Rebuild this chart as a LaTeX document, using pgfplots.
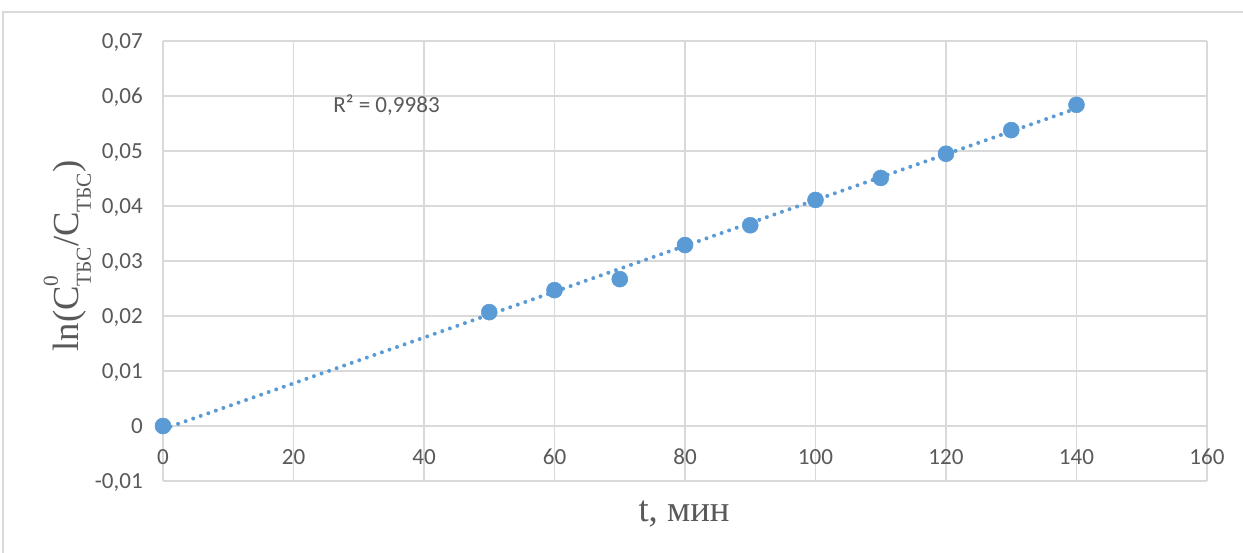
\documentclass[border=0pt]{standalone}
\usepackage{pgfplots}
\pgfplotsset{compat=1.18}
\usepackage{pgfplotstable}
\usepackage{fontspec}
\setmainfont{Carlito}
\newfontfamily\timesf{Liberation Serif}
\definecolor{ser}{HTML}{5B9BD5}
\definecolor{grd}{HTML}{D9D9D9}
\definecolor{txt}{HTML}{595959}

\pgfplotstableread{
x y
0 0
50 0.0207
60 0.0247
70 0.0267
80 0.0329
90 0.0365
100 0.0411
110 0.0451
120 0.0495
130 0.0538
140 0.0584
}\data

\begin{document}
\begin{tikzpicture}
\useasboundingbox (0pt,0pt) rectangle (932.25pt,414.75pt);
\draw[grd, line width=1.2pt] (2.25pt,405.75pt) rectangle (945pt,-10pt);
\begin{axis}[
  at={(122.25pt,54pt)}, anchor=south west,
  scale only axis, width=783pt, height=330pt,
  xmin=0, xmax=160, ymin=-0.01, ymax=0.07,
  scaled y ticks=false, scaled x ticks=false,
  /pgf/number format/assume math mode=true,
  xtick={0,20,40,60,80,100,120,140,160},
  xticklabels={0,20,40,60,80,100,120,140,160},
  ytick={-0.01,0,0.01,0.02,0.03,0.04,0.05,0.06,0.07},
  yticklabels={{-0,01},{0},{0,01},{0,02},{0,03},{0,04},{0,05},{0,06},{0,07}},
  grid=major,
  major grid style={draw=grd, line width=1.3pt},
  axis line style={draw=none},
  major tick length=0pt,
  tick label style={font=\fontsize{17.3}{20}\selectfont, text=txt},
  xticklabel style={anchor=base, inner sep=0pt, yshift=12pt},
  yticklabel style={anchor=base east, inner sep=0pt, xshift=-15pt, yshift=-5.5pt},
  clip=false,
]
\addplot[only marks, mark=*, mark size=6pt, mark options={fill=ser, draw=ser}] table[x=x, y=y] {\data};
\addplot[ser, no markers, line width=3pt, dash pattern=on 0pt off 6pt, line cap=round]
  table[x=x, y={create col/linear regression={y=y}}] {\data};
\end{axis}
\node[anchor=base west, inner sep=0pt, text=txt, font=\fontsize{17.3}{20}\selectfont] at (249.75pt,330.5pt) {R² = 0,9983};
\node[anchor=base, inner sep=0pt, text=txt, font=\timesf\fontsize{27.5}{30}\selectfont] at (513pt,23.25pt) {t, мин};
\node[anchor=base, inner sep=0pt, rotate=90, text=txt, font=\timesf\fontsize{27.5}{30}\selectfont] at (58.5pt,222.75pt)
  {ln(C\rlap{\raisebox{0.55em}{\fontsize{16}{18}\selectfont 0}}\raisebox{-0.35em}{\fontsize{16}{18}\selectfont ТБС}/C\raisebox{-0.35em}{\fontsize{16}{18}\selectfont ТБС})};
\end{tikzpicture}
\end{document}
